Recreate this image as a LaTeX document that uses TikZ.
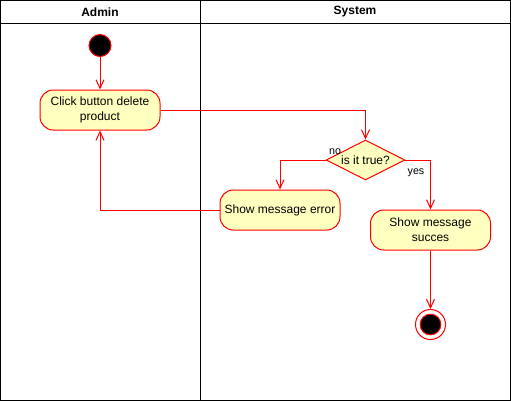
\documentclass[tikz,border=0pt]{standalone}
\usepackage{fontspec}
\setmainfont{Liberation Sans}
\usetikzlibrary{arrows.meta,shapes.geometric}
\definecolor{umlred}{RGB}{255,0,0}
\definecolor{umlfill}{RGB}{255,255,192}

\begin{document}
\begin{tikzpicture}[x=0.75pt,y=0.75pt,yscale=-1,xscale=1,
  font=\fontsize{9}{11}\selectfont, line width=0.75pt,
  action/.style={draw=umlred, fill=umlfill, rounded corners=10pt, minimum width=90pt, minimum height=30pt, align=center, inner sep=2pt},
  decision/.style={diamond, draw=umlred, fill=umlfill, aspect=2, inner sep=0pt, minimum width=59pt, minimum height=30pt},
  flow/.style={draw=umlred, -{Straight Barb[length=6.5pt,width=6pt]}},
  lbl/.style={inner sep=0.75pt, font=\fontsize{8}{10}\selectfont}]
\useasboundingbox (0,0) rectangle (511,401);

%Shape: Pool
\draw (0.5,0.5) rectangle (510.5,400.5);
\draw (0.5,23) -- (510.5,23);
\draw (200.5,0.5) -- (200.5,400.5);
\node (admin) at (100,12) {\bfseries Admin};
\node (system) at (355,12) {\bfseries System};

%Shape: Start
\node (start) [circle, draw=umlred, fill=black, inner sep=0pt, minimum size=16.5pt] at (100,45.5) {};
%Shape: Actions
\node (click) [action] at (100,110) {Click button delete\\product};
\node (check) [decision] at (365.5,160) {is it true?};
\node (error) [action] at (280,210) {Show message error};
\node (succes) [action] at (430.5,230) {Show message\\succes};
%Shape: End
\node (end) [circle, draw=umlred, fill=white, inner sep=0pt, minimum size=22.5pt] at (430.5,324.5) {};
\node (endin) [circle, draw=umlred, fill=black, inner sep=0pt, minimum size=15.5pt] at (end) {};

% Text Node
\node (no) [lbl] at (335,152) {no};
% Text Node
\node (yes) [lbl] at (416,173) {yes};

%Connectors
\draw[flow] (start) -- (click);
\draw[flow] (click.east) -| (check.north);
\draw[flow] (check.west) -| (error.north);
\draw[flow] (check.east) -| (succes.north);
\draw[flow] (error.west) -| (click.south);
\draw[flow] (succes) -- (end);

\end{tikzpicture}
\end{document}
